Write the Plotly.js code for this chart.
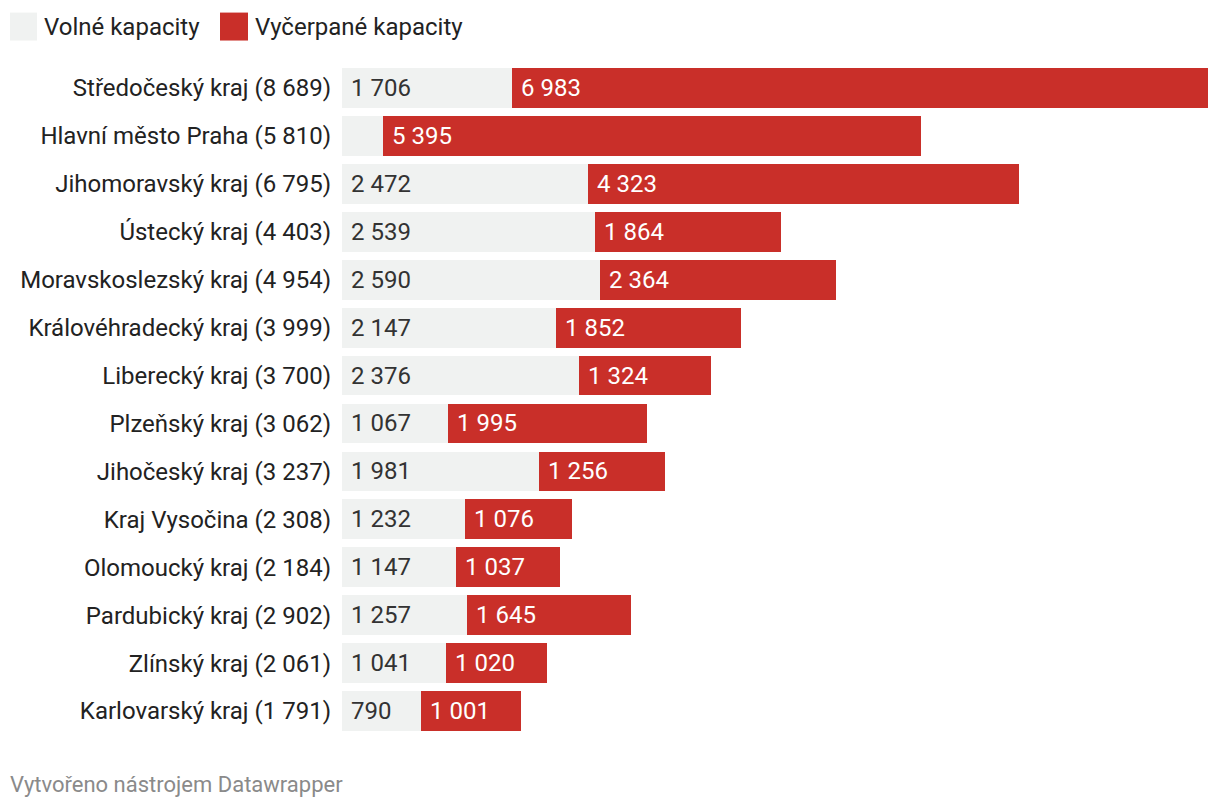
<!DOCTYPE html>
<html><head><meta charset="utf-8">
<script src="https://cdn.plot.ly/plotly-3.0.1.min.js"></script>
<style>html,body{margin:0;padding:0;background:#fff}#c{width:1220px;height:810px}</style>
</head><body><div id="c"></div>
<script>
const regions = ["Středočeský kraj","Hlavní město Praha","Jihomoravský kraj","Ústecký kraj","Moravskoslezský kraj","Královéhradecký kraj","Liberecký kraj","Plzeňský kraj","Jihočeský kraj","Kraj Vysočina","Olomoucký kraj","Pardubický kraj","Zlínský kraj","Karlovarský kraj"];
const free = [1706,415,2472,2539,2590,2147,2376,1067,1981,1232,1147,1257,1041,790];
const used = [6983,5395,4323,1864,2364,1852,1324,1995,1256,1076,1037,1645,1020,1001];
const seriesNames = ["Volné kapacity","Vyčerpané kapacity"];
const colors = ["#f0f2f1","#c92f29"];

const fmt = v => String(v).replace(/\B(?=(\d{3})+(?!\d))/g, "\u00a0");
const labels = regions.map((r,i) => r + " (" + fmt(free[i]+used[i]) + ")");
const maxTotal = Math.max(...free.map((f,i)=>f+used[i]));

const W=1220,H=810,L=342,R=12,T=63.5,B=74.5;
const pw=W-L-R, ph=H-T-B;
const px = x => (x-L)/pw, py = y => (H-B-y)/ph;
const FS = 24;

const traces = [
  {type:'bar',orientation:'h',y:labels,x:free,name:seriesNames[0],marker:{color:colors[0]},width:0.83,hoverinfo:'x'},
  {type:'bar',orientation:'h',y:labels,x:used,name:seriesNames[1],marker:{color:colors[1]},width:0.83,hoverinfo:'x'}
];

const annotations = [];
labels.forEach((lab,i)=>{
  if (free[i] >= 600) annotations.push({x:0,y:lab,xref:'x',yref:'y',text:fmt(free[i]),showarrow:false,xanchor:'left',xshift:7,font:{family:'Roboto',size:FS,color:'#333'}});
  annotations.push({x:free[i],y:lab,xref:'x',yref:'y',text:fmt(used[i]),showarrow:false,xanchor:'left',xshift:7,font:{family:'Roboto',size:FS,color:'#fff'}});
});
const shapes = [
  {type:'rect',xref:'paper',yref:'paper',x0:px(10),x1:px(37),y0:py(40),y1:py(12),fillcolor:colors[0],line:{width:0}},
  {type:'rect',xref:'paper',yref:'paper',x0:px(220),x1:px(248),y0:py(40),y1:py(12),fillcolor:colors[1],line:{width:0}}
];
annotations.push({xref:'paper',yref:'paper',x:px(42),y:py(26),text:seriesNames[0],showarrow:false,xanchor:'left',yanchor:'middle',font:{family:'Roboto',size:FS,color:'#222'}});
annotations.push({xref:'paper',yref:'paper',x:px(253),y:py(26),text:seriesNames[1],showarrow:false,xanchor:'left',yanchor:'middle',font:{family:'Roboto',size:FS,color:'#222'}});
annotations.push({xref:'paper',yref:'paper',x:px(8),y:py(785),text:"Vytvořeno nástrojem Datawrapper",showarrow:false,xanchor:'left',yanchor:'middle',font:{family:'Roboto',size:22,color:'#8a8a8a'}});

const layout = {
  width:W,height:H,margin:{l:L,r:R,t:T,b:B},
  barmode:'stack',bargap:0.17,showlegend:false,
  paper_bgcolor:'#fff',plot_bgcolor:'#fff',
  xaxis:{range:[0,maxTotal],visible:false,fixedrange:true},
  yaxis:{autorange:'reversed',type:'category',showgrid:false,zeroline:false,showline:false,ticks:'',ticklabelstandoff:10,tickfont:{family:'Roboto',size:FS,color:'#222'},fixedrange:true},
  shapes, annotations,
  font:{family:'Roboto'}
};
Plotly.newPlot('c',traces,layout,{displayModeBar:false,staticPlot:true});
</script></body></html>
